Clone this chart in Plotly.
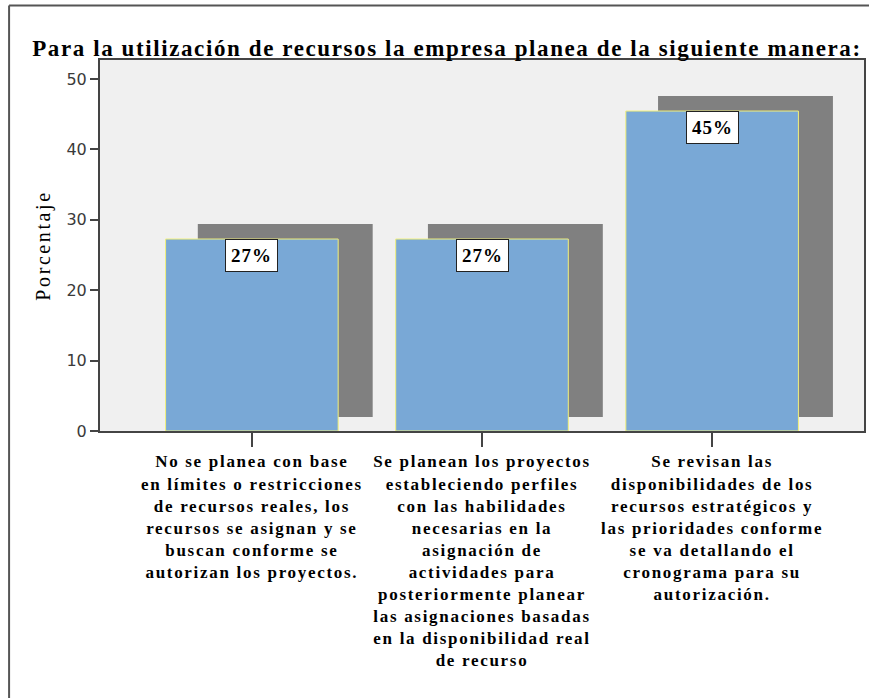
import plotly.graph_objects as go

# ---- data ----
categories = [
    "No se planea con base<br>en límites o restricciones<br>de recursos reales, los<br>recursos se asignan y se<br>buscan conforme se<br>autorizan los proyectos.",
    "Se planean los proyectos<br>estableciendo perfiles<br>con las habilidades<br>necesarias en la<br>asignación de<br>actividades para<br>posteriormente planear<br>las asignaciones basadas<br>en la disponibilidad real<br>de recurso",
    "Se revisan las<br>disponibilidades de los<br>recursos estratégicos y<br>las prioridades conforme<br>se va detallando el<br>cronograma para su<br>autorización.",
]
porcentaje = [27.27, 27.27, 45.45]
y_ticks = [0, 10, 20, 30, 40, 50]
title_text = "Para la utilización de recursos la empresa planea de la siguiente manera:"
y_title = "Porcentaje"

# ---- style ----
positions = list(range(len(categories)))
bar_width = 0.75
shadow_dx = 0.14
shadow_base = 2.0
shadow_lift = 0.13

serif = "Liberation Serif, Times New Roman, serif"
sans = "DejaVu Sans, Arial, sans-serif"


def spaced(text, px):
    return f'<span style="letter-spacing:{px}px">{text}</span>'


fig = go.Figure()

# shadow bars
fig.add_trace(go.Bar(
    x=positions,
    y=[v + shadow_lift for v in porcentaje],
    base=shadow_base,
    width=bar_width + 0.01,
    offset=-bar_width / 2 + shadow_dx,
    marker=dict(color="#808080", line=dict(width=0)),
    hoverinfo="skip",
    showlegend=False,
))

# main bars
fig.add_trace(go.Bar(
    x=positions,
    y=porcentaje,
    width=bar_width,
    marker=dict(color="#79a8d6", line=dict(color="#f2f07a", width=1)),
    showlegend=False,
))

for xi, v in zip(positions, porcentaje):
    fig.add_annotation(
        x=xi, y=v, xref="x", yref="y",
        text="<b>" + spaced(f"{v:.0f}%", 1) + "</b>",
        showarrow=False, yanchor="top", xanchor="center",
        font=dict(family=serif, size=19, color="black"),
        bgcolor="white", bordercolor="#222222", borderwidth=1, borderpad=5,
    )

# outer frame lines
fig.add_shape(type="line", xref="paper", yref="paper",
              x0=-0.119, x1=1.02, y0=1.147, y1=1.147,
              line=dict(color="#555555", width=2))
fig.add_shape(type="line", xref="paper", yref="paper",
              x0=-0.119, x1=-0.119, y0=1.147, y1=-0.8,
              line=dict(color="#555555", width=2))

fig.update_layout(
    width=869, height=698,
    margin=dict(l=100, r=3, t=60, b=267),
    paper_bgcolor="white",
    plot_bgcolor="#f0f0f0",
    barmode="overlay",
    title=dict(text="<b>" + spaced(title_text, 1.6) + "</b>", x=0.037, xanchor="left",
               y=0.932, yanchor="middle",
               font=dict(family=serif, size=23, color="black")),
    xaxis=dict(
        range=[-0.66, 2.66],
        tickmode="array", tickvals=positions,
        ticktext=["<b>" + spaced(c, 1.7) + "</b>" for c in categories],
        ticks="outside", ticklen=14, tickwidth=2, tickcolor="#444444",
        tickfont=dict(family=serif, size=17, color="black"),
        showline=True, linecolor="#444444", linewidth=2, mirror=True,
        showgrid=False, zeroline=False, fixedrange=True,
    ),
    yaxis=dict(
        range=[0, 52.7],
        tickmode="array", tickvals=y_ticks,
        ticks="outside", ticklen=8, tickwidth=2, tickcolor="#444444",
        tickfont=dict(family=sans, size=16, color="#3a3a3a"),
        showline=True, linecolor="#444444", linewidth=2, mirror=True,
        showgrid=False, zeroline=False,
        title=dict(text=spaced(y_title, 2.6), font=dict(family=serif, size=20, color="black"),
                   standoff=10),
    ),
)

fig.write_html("out.html", config={"displayModeBar": False},
               post_script="document.body.style.margin='0';")
